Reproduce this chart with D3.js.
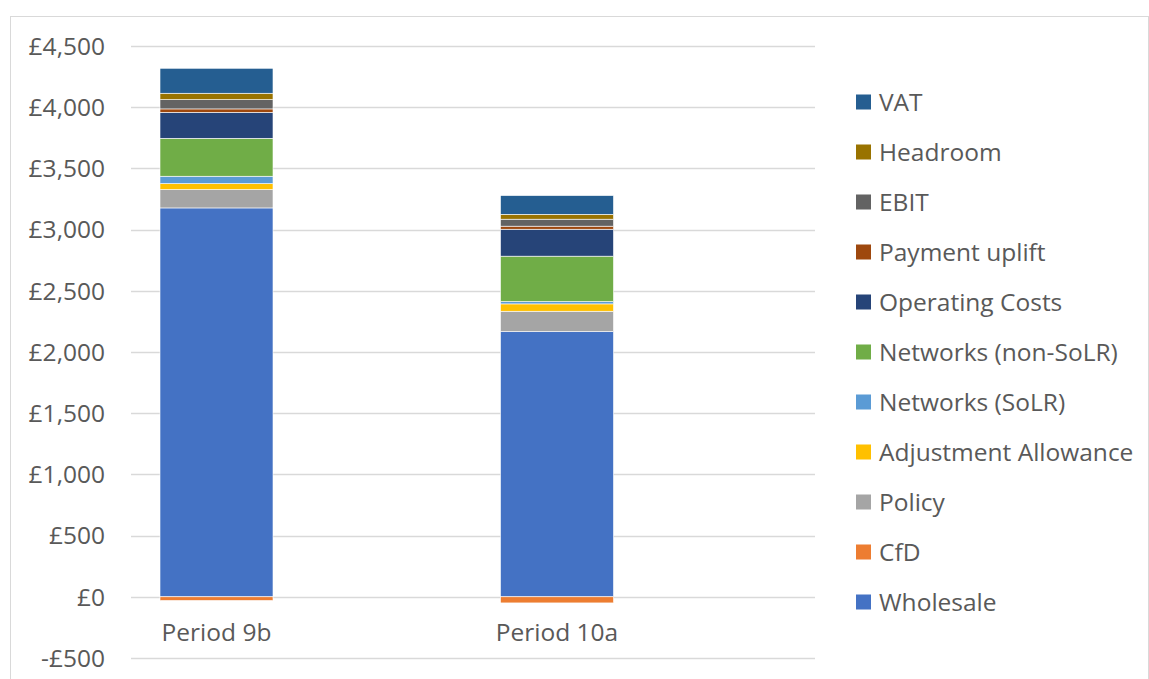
<!DOCTYPE html>
<html>
<head>
<meta charset="utf-8">
<script src="https://cdn.jsdelivr.net/npm/d3@7"></script>
<style>
  body { margin: 0; background: #fff; }
  text { font-family: "Open Sans", sans-serif; fill: #595959; font-size: 24.5px; }
</style>
</head>
<body>
<div id="chart"></div>
<script>
var categories = ["Period 9b", "Period 10a"];
var seriesNames = ["Wholesale", "CfD", "Policy", "Adjustment Allowance", "Networks (SoLR)",
    "Networks (non-SoLR)", "Operating Costs", "Payment uplift", "EBIT", "Headroom", "VAT"];
var wholesale = [3177, 2167];
var cfd = [-30, -50];
var policy = [150, 166];
var adjustment = [49, 60];
var networksSolr = [60, 19];
var networksNonSolr = [310, 371];
var operatingCosts = [212, 220];
var paymentUplift = [28, 25];
var ebit = [76, 57];
var headroom = [52, 40];
var vat = [204, 153];
var yTicks = [-500, 0, 500, 1000, 1500, 2000, 2500, 3000, 3500, 4000, 4500];

var colors = ["#4472C4", "#ED7D31", "#A5A5A5", "#FFC000", "#5B9BD5",
    "#70AD47", "#264478", "#9E480E", "#636363", "#997300", "#255E91"];
var allSeries = [wholesale, cfd, policy, adjustment, networksSolr, networksNonSolr,
    operatingCosts, paymentUplift, ebit, headroom, vat];

var width = 1149, height = 679;

var svg = d3.select("#chart").append("svg")
    .attr("width", width)
    .attr("height", height);

// chart border
svg.append("rect")
    .attr("x", 10.5).attr("y", 16.5)
    .attr("width", 1138).attr("height", 700)
    .attr("fill", "none").attr("stroke", "#d9d9d9");

var y = d3.scaleLinear()
    .domain([-500, 4500])
    .range([658, 46]);

var x = d3.scalePoint()
    .domain(categories)
    .range([216.5, 557]);
var barWidth = 113;

// gridlines
svg.append("g").selectAll("line")
    .data(yTicks)
    .enter().append("line")
    .attr("x1", 131).attr("x2", 815)
    .attr("y1", function(d){ return Math.round(y(d)) + 0.5; })
    .attr("y2", function(d){ return Math.round(y(d)) + 0.5; })
    .attr("stroke", "#d9d9d9")
    .attr("stroke-width", 1.3);

// y labels
var fmt = d3.format(",");
svg.append("g").selectAll("text")
    .data(yTicks)
    .enter().append("text")
    .attr("x", 105)
    .attr("y", function(d){ return y(d); })
    .attr("dy", "0.36em")
    .attr("text-anchor", "end")
    .text(function(d){ return (d < 0 ? "-£" : "£") + fmt(Math.abs(d)); });

// stacked bars
categories.forEach(function(cat, ci){
    var pos = 0, neg = 0;
    allSeries.forEach(function(s, si){
        var v = s[ci], y0, y1;
        if (v >= 0) { y0 = pos; y1 = pos + v; pos = y1; }
        else { y0 = neg + v; y1 = neg; neg = y0; }
        svg.append("rect")
            .attr("x", x(cat) - barWidth / 2)
            .attr("y", y(y1))
            .attr("width", barWidth)
            .attr("height", y(y0) - y(y1))
            .attr("fill", colors[si])
            .attr("stroke", "#fff")
            .attr("stroke-width", 0.6);
    });
});

// category labels
svg.append("g").selectAll("text")
    .data(categories)
    .enter().append("text")
    .attr("x", function(d){ return x(d); })
    .attr("y", 641)
    .attr("text-anchor", "middle")
    .text(function(d){ return d; });

// legend, VAT at top
var legendItems = seriesNames.map(function(n, i){ return {name: n, color: colors[i]}; }).reverse();
var legend = svg.append("g").selectAll("g")
    .data(legendItems)
    .enter().append("g")
    .attr("transform", function(d, i){ return "translate(856," + (102 + i * 50) + ")"; });
legend.append("rect")
    .attr("x", 0).attr("y", -7.5)
    .attr("width", 15).attr("height", 15)
    .attr("fill", function(d){ return d.color; });
legend.append("text")
    .attr("x", 23).attr("y", 0)
    .attr("dy", "0.36em")
    .text(function(d){ return d.name; });
</script>
</body>
</html>
